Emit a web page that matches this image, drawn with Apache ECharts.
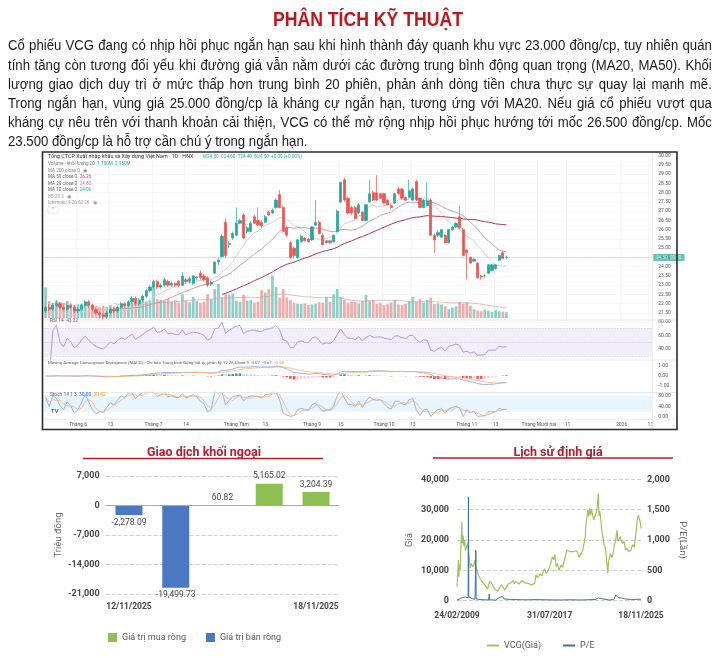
<!DOCTYPE html>
<html><head><meta charset="utf-8">
<script src="https://cdn.jsdelivr.net/npm/echarts@6/dist/echarts.min.js"></script>
<style>
html,body{margin:0;padding:0;background:#fff;}
#wrap{position:relative;width:720px;height:658px;overflow:hidden;background:#fff;}
#chart{position:absolute;left:0;top:0;width:720px;height:658px;}
#title{position:absolute;left:68px;top:7px;width:600px;text-align:center;font:bold 21px 'Liberation Sans',Arial,sans-serif;line-height:24px;color:#c0151c;transform:scaleX(0.84);transform-origin:50% 0;}
#para{position:absolute;left:8px;top:35.4px;width:828px;transform:scaleX(0.85);transform-origin:0 0;font:15.5px 'Liberation Sans',Arial,sans-serif;line-height:19.2px;color:#1a1a1a;}
.ln{text-align:justify;text-align-last:justify;text-justify:inter-word;white-space:nowrap;}
.ln.last{text-align:left;text-align-last:left;}
</style></head><body>
<div id="wrap">
<div id="chart"></div>
<div id="title">PHÂN TÍCH KỸ THUẬT</div>
<div id="para">
<div class="ln">Cổ phiếu VCG đang có nhịp hồi phục ngắn hạn sau khi hình thành đáy quanh khu vực 23.000 đồng/cp, tuy nhiên quán</div>
<div class="ln">tính tăng còn tương đối yếu khi đường giá vẫn nằm dưới các đường trung bình động quan trọng (MA20, MA50). Khối</div>
<div class="ln">lượng giao dịch duy trì ở mức thấp hơn trung bình 20 phiên, phản ánh dòng tiền chưa thực sự quay lại mạnh mẽ.</div>
<div class="ln">Trong ngắn hạn, vùng giá 25.000 đồng/cp là kháng cự ngắn hạn, tương ứng với MA20. Nếu giá cổ phiếu vượt qua</div>
<div class="ln">kháng cự nêu trên với thanh khoản cải thiện, VCG có thể mở rộng nhịp hồi phục hướng tới mốc 26.500 đồng/cp. Mốc</div>
<div class="ln last">23.500 đồng/cp là hỗ trợ cần chú ý trong ngắn hạn.</div>
</div>
</div>
<script>
// ---------------- DATA ----------------
// daily candles [open, close, low, high] ending 18/11/2025
const candleOHLC = [
[21.6,21.8,21.5,21.9],[21.8,21.7,21.6,22.0],[21.7,21.9,21.6,22.0],[21.9,22.0,21.8,22.2],[22.0,21.8,21.7,22.1],
[21.8,21.7,21.6,21.9],[21.7,21.9,21.6,22.0],[21.9,21.8,21.7,22.0],[21.8,21.6,21.5,21.9],[21.6,21.7,21.5,21.8],
[21.7,21.9,21.6,22.0],[21.9,22.1,21.8,22.2],[22.1,21.9,21.8,22.2],[21.9,21.7,21.6,22.0],[21.7,21.5,21.4,21.8],
[21.5,21.4,21.2,21.6],[21.4,21.3,21.1,21.5],[21.3,21.5,21.2,21.6],[21.5,21.7,21.4,21.8],[21.7,21.6,21.5,21.8],
[21.6,21.8,21.5,21.9],[21.8,22.0,21.7,22.1],[22.0,21.9,21.8,22.1],[21.9,22.1,21.8,22.2],[22.1,22.3,22.0,22.4],
[22.3,22.0,21.9,22.4],[22.0,22.2,21.9,22.3],[22.2,22.4,22.1,22.5],[22.4,22.7,22.3,22.8],[22.7,22.9,22.6,23.0],
[22.9,23.2,22.8,23.3],
[23.2,22.9,22.8,23.3],[22.9,23.0,22.8,23.1],[23.0,23.3,22.9,23.4],[23.2,23.0,22.9,23.3],[23.0,23.1,22.9,23.2],
[23.1,23.0,22.9,23.15],[23.2,23.0,22.9,23.3],[23.0,23.5,22.95,23.7],[23.3,23.2,23.1,23.4],[23.2,23.35,23.1,23.45],
[23.1,23.5,23.0,23.55],[23.4,23.45,23.3,23.5],
[23.65,23.4,23.3,23.8],[23.5,23.3,23.2,23.6],[23.4,23.0,22.9,23.5],[23.05,23.15,22.95,23.25],[23.65,24.25,23.6,24.3],
[24.25,24.35,24.1,24.5],[24.55,25.65,24.5,25.75],[26.4,24.6,24.5,26.6],[25.2,25.25,25.0,25.4],[25.55,25.8,25.45,25.9],
[25.7,26.35,25.65,27.2],[26.35,26.5,26.3,26.6],[26.8,25.55,25.5,26.9],[25.9,26.1,25.8,26.2],[25.9,26.35,25.85,26.45],
[26.7,26.35,26.3,26.8],[26.5,26.25,26.2,27.2],[26.4,26.2,26.1,26.5],[26.4,26.7,26.35,26.8],[26.95,26.8,26.75,27.05],
[26.9,27.05,26.85,27.15],[27.2,27.6,27.15,27.7],[27.9,27.2,27.15,28.15],[27.2,25.9,25.85,27.3],[26.1,25.7,25.6,26.2],
[25.3,24.5,24.4,25.4],[25.0,24.6,24.45,25.1],[24.5,25.45,24.4,25.5],[25.35,25.65,25.3,25.75],[25.55,25.4,25.35,25.6],
[25.5,25.35,25.3,25.55],[25.45,26.15,25.4,26.2],[26.25,26.4,26.2,27.6],[26.4,25.8,25.75,26.5],[25.7,25.2,25.15,25.8],
[25.3,25.4,25.25,25.45],[25.4,25.3,25.25,25.45],[25.35,25.7,25.3,25.75],[25.9,27.0,25.85,27.1],[27.5,28.55,27.45,28.6],
[28.7,27.6,27.5,28.8],[27.7,26.9,26.85,27.8],[27.2,26.9,26.8,27.3],[27.2,26.6,26.55,27.3],[26.9,27.35,26.85,27.45],
[26.95,26.5,26.45,27.0],[26.5,27.35,26.45,27.4],[27.5,27.95,27.45,28.7],[28.0,27.6,27.55,28.1],[28.0,27.6,27.55,28.95],
[27.95,27.7,27.65,28.0],[27.95,27.45,27.4,28.0],[27.6,27.35,27.3,27.65],[27.3,27.2,27.1,27.4],[27.45,27.95,27.4,28.0],
[28.2,27.95,27.9,28.3],[28.2,27.7,27.65,28.25],[27.75,27.6,27.55,27.8],[27.75,28.1,27.7,28.7],[27.6,28.2,27.55,28.3],
[28.6,27.6,27.55,28.7],[27.7,27.2,27.15,27.75],[27.2,27.6,27.15,27.65],[27.3,27.55,27.25,28.55],[27.6,25.7,25.65,27.7],
[25.7,25.45,24.75,25.8],[25.7,25.85,25.6,25.95],[25.6,26.0,25.55,26.05],[25.7,25.3,25.25,25.75],[25.3,26.0,25.25,26.05],
[26.0,26.15,25.95,26.2],[26.15,26.35,26.1,26.4],[26.7,26.1,26.05,27.3],[26.0,24.6,24.55,26.1],[24.9,24.75,23.3,24.95],
[24.5,24.2,24.15,24.55],[24.3,24.4,24.25,24.45],[24.2,23.4,23.35,24.25],[23.5,23.45,23.3,23.55],[23.5,23.5,23.4,23.6],
[23.65,24.1,23.6,24.15],[23.8,24.1,23.75,24.15],[23.9,24.1,23.85,24.15],[24.35,24.6,24.3,24.65],[24.75,24.45,24.4,24.85],
[24.5,24.5,24.4,24.6]
];
// daily volume (millions of shares)
const volumeM = [
9.0,5.0,4.5,5.0,4.7,4.5,5.0,4.2,3.8,4.0,
4.2,4.0,3.6,4.1,3.5,3.2,3.6,3.3,3.8,3.4,
3.2,3.5,3.9,4.4,4.6,4.2,4.5,6.5,4.8,5.2,
9.1,5.5,5.3,5.0,5.6,4.8,5.2,4.5,7.0,5.0,
4.6,6.2,5.0,4.5,4.8,7.0,5.5,8.5,10.0,6.0,
7.0,6.8,7.2,5.0,4.8,6.8,5.0,5.3,4.5,4.8,
8.2,7.5,8.5,12.5,9.1,6.0,8.5,6.0,5.3,4.5,
4.2,4.1,4.3,3.8,4.0,4.2,4.7,4.5,6.2,4.8,
7.0,8.5,6.2,5.3,4.5,4.8,4.7,4.3,5.0,6.8,
5.0,5.3,4.2,4.4,3.8,4.0,4.6,5.3,4.0,3.8,
4.2,5.0,6.2,4.8,5.6,4.5,5.3,6.0,4.1,4.3,
4.0,3.5,2.6,3.0,3.4,4.7,4.2,4.7,3.6,2.6,
2.2,2.0,2.4,2.1,1.8,2.3,2.0,1.9,1.7
];
const lastSessionDate = '2025-11-18';
const marketHolidays = ['2025-09-01','2025-09-02'];
const totalSlots = 169;
const timeTickDates = ['2025-06-02','2025-06-13','2025-07-01','2025-07-14','2025-08-01','2025-08-13','2025-09-03','2025-09-15','2025-10-01','2025-10-13','2025-11-03','2025-11-13','2025-12-01','2025-12-11','2026-01-01','2026-01-13'];
const timeTickLabels = ['Tháng 6','13','Tháng 7','14','Tháng Tám','13','Tháng 9','15','Tháng 10','13','Tháng 11','13','Tháng Mười hai','11','2026','13'];

// foreign trading
const foreignDates = ['12/11/2025','13/11/2025','14/11/2025','17/11/2025','18/11/2025'];
const foreignNet = [-2278.09,-19499.73,60.82,5165.02,3204.39];

// valuation history
const valuationTickDates = ['2009-02-24','2017-07-31','2025-11-18'];
const priceHistory = [
['2009-02-24',4600],['2009-03-20',8500],['2009-04-10',13400],['2009-04-25',7900],['2009-05-15',12000],['2009-06-10',10000],
['2009-07-01',17000],['2009-08-05',26000],['2009-08-20',18900],['2009-09-15',21500],['2009-10-10',18000],['2009-11-05',20000],
['2009-12-01',16500],['2010-01-10',17800],['2010-02-15',18900],['2010-03-20',15600],['2010-04-20',13200],['2010-05-10',10800],
['2010-06-01',12300],['2010-07-05',12900],['2010-08-01',11200],['2010-09-10',12000],['2010-10-10',13400],['2010-11-15',11000],
['2010-12-20',10100],['2011-02-10',8200],['2011-03-15',7900],['2011-05-01',6800],['2011-06-15',6300],['2011-08-01',5600],
['2011-09-15',5000],['2011-10-20',4600],['2011-12-10',3900],['2012-01-20',5700],['2012-03-01',6500],['2012-04-10',6300],
['2012-05-20',5200],['2012-07-15',4100],['2012-09-01',3700],['2012-11-10',3000],['2013-01-05',4200],['2013-03-10',5200],
['2013-05-10',4400],['2013-06-20',3500],['2013-08-15',4300],['2013-10-20',5500],['2013-12-15',5100],['2014-02-01',5900],
['2014-04-01',6700],['2014-05-15',5600],['2014-07-01',6300],['2014-09-01',6800],['2014-10-15',5500],['2014-12-15',6000],
['2015-01-20',6600],['2015-03-10',6200],['2015-05-01',5900],['2015-07-01',6400],['2015-08-20',5700],['2015-10-10',5400],
['2015-12-01',5200],['2016-02-01',5000],['2016-03-20',5700],['2016-05-01',8500],['2016-06-20',7600],['2016-08-10',7900],
['2016-10-01',8800],['2016-11-20',8100],['2017-01-01',9600],['2017-02-20',10500],['2017-04-10',9000],['2017-06-01',9800],
['2017-08-01',11200],['2017-09-15',12800],['2017-11-01',14500],['2017-12-10',13500],['2018-01-20',15200],['2018-03-01',11200],
['2018-04-15',12200],['2018-06-01',10100],['2018-07-10',9500],['2018-08-20',11800],['2018-10-01',11000],['2018-11-20',13000],
['2019-01-01',14500],['2019-02-25',16700],['2019-04-10',17300],['2019-06-01',16200],['2019-08-01',16800],['2019-10-01',16200],
['2019-11-20',15800],['2020-01-10',16500],['2020-02-20',15600],['2020-04-01',14200],['2020-05-15',15100],['2020-06-25',15000],
['2020-08-05',16700],['2020-09-15',19000],['2020-10-20',21100],['2020-11-25',26000],['2020-12-20',27500],['2021-01-15',29900],
['2021-02-15',27800],['2021-03-20',30400],['2021-04-15',28200],['2021-05-20',30000],['2021-07-01',29900],['2021-08-01',26600],
['2021-09-01',27500],['2021-10-15',28800],['2021-11-20',30500],['2022-01-01',35400],['2022-01-25',28000],['2022-02-20',29500],
['2022-03-25',26600],['2022-05-01',22500],['2022-06-01',21100],['2022-07-10',18400],['2022-08-15',17500],['2022-09-25',14500],
['2022-11-10',9000],['2022-12-05',12900],['2023-01-10',13500],['2023-02-10',15600],['2023-03-25',14200],['2023-05-01',15100],
['2023-06-15',18400],['2023-08-01',19800],['2023-09-10',23300],['2023-10-15',19500],['2023-11-20',18900],['2024-01-01',21100],
['2024-02-01',19800],['2024-03-15',18900],['2024-05-01',19700],['2024-06-20',16700],['2024-08-05',17400],['2024-09-20',16200],
['2024-11-01',15600],['2024-12-15',16500],['2025-01-20',17800],['2025-03-01',18500],['2025-04-10',17500],['2025-05-20',21100],
['2025-06-25',21500],['2025-07-20',26600],['2025-08-25',28200],['2025-09-20',27200],['2025-10-25',25800],['2025-11-18',23800]
];
const peHistory = [
['2009-02-24',10],['2009-06-01',30],['2009-09-01',55],['2009-12-15',60],['2010-02-01',40],['2010-03-01',45],['2010-03-10',1710],
['2010-03-22',60],['2010-05-01',50],['2010-08-01',30],['2010-10-15',25],['2010-11-05',35],['2010-11-12',830],['2010-11-22',30],
['2011-03-01',20],['2011-09-01',15],['2012-01-10',12],['2012-02-01',110],['2012-02-15',15],['2012-09-01',10],['2013-01-15',55],
['2013-03-01',60],['2013-04-15',70],['2013-06-01',30],['2014-01-01',20],['2015-06-01',15],['2016-06-01',18],['2017-06-01',14],
['2018-06-01',12],['2019-06-01',15],['2020-06-01',12],['2021-10-01',20],['2021-11-15',40],['2022-01-01',45],['2022-03-01',15],
['2023-01-01',10],['2023-06-01',20],['2023-08-01',95],['2023-09-15',90],['2023-10-15',55],['2023-12-01',60],['2024-02-01',45],
['2024-06-01',30],['2025-01-01',20],['2025-11-18',25]
];

// ---------------- HELPERS ----------------
const iso = d => d.toISOString().slice(0,10);
function buildDays(){
  const past=[]; let d=new Date(lastSessionDate+'T00:00:00Z');
  while(past.length<candleOHLC.length){const wd=d.getUTCDay();const s=iso(d);
    if(wd!==0&&wd!==6&&!marketHolidays.includes(s)) past.unshift(s); d.setUTCDate(d.getUTCDate()-1);}
  const all=past.slice(); d=new Date(lastSessionDate+'T00:00:00Z');
  while(all.length<totalSlots){d.setUTCDate(d.getUTCDate()+1);const wd=d.getUTCDay(); if(wd!==0&&wd!==6) all.push(iso(d));}
  return all;
}
const cats = buildDays();
const tickMap = {}; timeTickDates.forEach((d,i)=>tickMap[d]=timeTickLabels[i]);
const isTick = (i,v)=> tickMap[v]!==undefined;

const closes = candleOHLC.map(c=>c[1]);
function sma(arr,n){return arr.map((v,i)=>{if(i<n-1) return null; let s=0; for(let k=i-n+1;k<=i;k++) s+=arr[k]; return +(s/n).toFixed(4);});}
function ema(arr,n){const k=2/(n+1);const out=[];arr.forEach((v,i)=>out.push(i===0?v:v*k+out[i-1]*(1-k)));return out;}
const ma10=sma(closes,10), ma20=sma(closes,20), ma50=sma(closes,50), volMa=sma(volumeM,20);
const e12=ema(closes,12), e26=ema(closes,26);
const macd=e12.map((v,i)=>v-e26[i]); const sig=ema(macd,9); const hist=macd.map((v,i)=>v-sig[i]);
const rsi=[null]; {let ag=0,al=0; for(let i=1;i<closes.length;i++){const ch=closes[i]-closes[i-1];const g=Math.max(ch,0),l=Math.max(-ch,0);
  if(i<=14){ag=(ag*(i-1)+g)/i; al=(al*(i-1)+l)/i;} else {ag=(ag*13+g)/14; al=(al*13+l)/14;}
  rsi.push(al===0?100:+(100-100/(1+ag/al)).toFixed(2));}}
const stK=candleOHLC.map((c,i)=>{let hh=-1e9,ll=1e9;for(let k=Math.max(0,i-13);k<=i;k++){hh=Math.max(hh,candleOHLC[k][3]);ll=Math.min(ll,candleOHLC[k][2]);}return +(100*(c[1]-ll)/(hh-ll)).toFixed(2);});
const stD=stK.map((v,i)=>{const a=stK.slice(Math.max(0,i-2),i+1);return +(a.reduce((x,y)=>x+y,0)/a.length).toFixed(2);});
const up='#26a69a', dn='#ef5350';
const dirUp=candleOHLC.map((c,i)=>c[1]>c[0]||(c[1]===c[0]&&i>0&&c[1]>=closes[i-1]));
const volData=volumeM.map((v,i)=>({value:v,itemStyle:{color:dirUp[i]?'#8dcfc6':'#f5aaa9'}}));
const histData=hist.map((v,i)=>{const p=i>0?hist[i-1]:0;const c=v>=0?(v>=p?'#26a69a':'#b2dfdb'):(v<p?'#ff5252':'#ffcdd2');return {value:+v.toFixed(4),itemStyle:{color:c}};});
const last=closes[closes.length-1];
const ts = s=>Date.parse(s+'T00:00:00Z');
const fmtDate = t=>{const d=new Date(t);return String(d.getUTCDate()).padStart(2,'0')+'/'+String(d.getUTCMonth()+1).padStart(2,'0')+'/'+d.getUTCFullYear();};
const f2 = v=>v==null?'':v.toFixed(2);
const buyVals=foreignNet.map(v=>v>=0?v:null), sellVals=foreignNet.map(v=>v<0?v:null);

// ---------------- GRAPHICS (TradingView labels, frame) ----------------
const TF='Roboto, Arial, sans-serif';
const G=[];
function txt(x,y,rich,text,size,color){G.push({type:'text',x:x,y:y,z:60,silent:true,style:{text:text,rich:rich||undefined,fill:color||'#555',fontSize:size||5,fontFamily:TF,textVerticalAlign:'middle',verticalAlign:'middle'}});}
function hl(x1,y1,x2,y2,c,w){G.push({type:'line',z:55,silent:true,shape:{x1,y1,x2,y2},style:{stroke:c,lineWidth:w||1}});}
txt(48,156.5,null,'Tổng CTCP Xuất nhập khẩu và Xây dựng Việt Nam · 1D · HNX',5.4,'#333');
txt(203,156.5,{g:{fill:'#26a69a',fontSize:4.6,fontFamily:TF}},'{g|M24.50  C24.60  T24.40  Đ24.50  +0.00 (+0.00%)}',4.6,'#26a69a');
txt(48,164,{a:{fill:'#777',fontSize:4.6,fontFamily:TF},g:{fill:'#26a69a',fontSize:4.6,fontFamily:TF}},'{a|Volume · khối lượng 20}  {g|'+(volumeM[volumeM.length-1]).toFixed(3)+'M  '+volMa[volMa.length-1].toFixed(3)+'M}');
txt(48,170.5,null,'MA 200 close 0   ◉',4.6,'#888');
txt(48,177,{a:{fill:'#666',fontSize:4.6,fontFamily:TF},r:{fill:'#c2416a',fontSize:4.6,fontFamily:TF}},'{a|MA 50 close 0}  {r|'+f2(ma50[ma50.length-1])+'}');
txt(48,183.5,{a:{fill:'#666',fontSize:4.6,fontFamily:TF},r:{fill:'#c07a95',fontSize:4.6,fontFamily:TF}},'{a|MA 20 close 0}  {r|'+f2(ma20[ma20.length-1])+'}');
txt(48,190,{a:{fill:'#666',fontSize:4.6,fontFamily:TF},r:{fill:'#2aa07a',fontSize:4.6,fontFamily:TF}},'{a|MA 10 close 0}  {r|'+f2(ma10[ma10.length-1])+'}');
txt(48,196.5,null,'BB 20 2   ◉',4.6,'#999');
txt(48,203,null,'Ichimoku 9 26 52 26   ◉',4.6,'#999');
G.push({type:'rect',z:60,silent:true,shape:{x:48,y:207,width:10,height:6,r:1},style:{fill:'#fff',stroke:'#ccc',lineWidth:0.5}});
txt(51,210.2,null,'⌃',4.5,'#777');
txt(50,320.5,{a:{fill:'#555',fontSize:4.8,fontFamily:TF},r:{fill:'#7e57c2',fontSize:4.8,fontFamily:TF}},'{a|RSI 14}  {r|'+f2(rsi[rsi.length-1])+'}');
txt(48,363,{a:{fill:'#555',fontSize:4.3,fontFamily:TF},b:{fill:'#2962ff',fontSize:4.3,fontFamily:TF},o:{fill:'#ff9800',fontSize:4.3,fontFamily:TF}},'{a|Moving Average Convergence Divergence (MACD) - Chỉ báo Trung bình Động hội tụ, phân kỳ 12 26 Close 9}  {b|'+f2(hist[hist.length-1])+'}  {b|'+f2(macd[macd.length-1])+'}  {o|'+f2(sig[sig.length-1])+'}');
txt(50,394.5,{a:{fill:'#555',fontSize:4.8,fontFamily:TF},b:{fill:'#2962ff',fontSize:4.8,fontFamily:TF},o:{fill:'#ff9800',fontSize:4.8,fontFamily:TF}},'{a|Stoch 14 1 3}  {b|'+f2(stK[stK.length-1])+'}  {o|'+f2(stD[stD.length-1])+'}');
txt(51,411.5,null,'TV',6,'#131722');
hl(43,320,677,320,'#e3e3e3',0.8); hl(43,360,677,360,'#e3e3e3',0.8); hl(43,392.5,677,392.5,'#e3e3e3',0.8); hl(43,419.5,677,419.5,'#e8e8e8',0.8);
hl(652.5,153,652.5,429,'#ececec',0.8);
G.push({type:'rect',z:70,silent:true,shape:{x:42.5,y:152,width:634.5,height:277.5},style:{fill:'none',stroke:'#2b2b2b',lineWidth:1.6}});
hl(83,458.5,323,458.5,'#b3202a',1.6); hl(433,458,673,458,'#b3202a',1.6);

// ---------------- OPTION ----------------
const gL=43.8, gR=720-(43.8+169*3.6);
function catAxis(gi,showLab){return {type:'category',gridIndex:gi,data:cats,boundaryGap:true,axisLine:{show:false},axisTick:{show:false},
  axisLabel:{show:showLab,interval:isTick,formatter:v=>tickMap[v]||'',fontSize:5,color:'#555',margin:3,fontFamily:TF},
  splitLine:{show:gi===0,interval:isTick,lineStyle:{color:'#f0f0f0',width:0.7}}};}
function subY(gi,mn,mx,vals){return {type:'value',gridIndex:gi,position:'right',min:mn,max:mx,axisLine:{show:false},axisTick:{show:false},splitLine:{show:false},
  axisLabel:{customValues:vals,formatter:v=>v.toFixed(2),fontSize:5,color:'#555',margin:6,fontFamily:TF}};}
const BF='Roboto, Arial, sans-serif';
const option={
  animation:false,
  backgroundColor:'transparent',
  graphic:G,
  title:[
    {text:'Giao dịch khối ngoại',left:199,top:441,textAlign:'center',textStyle:{fontSize:12.5,fontWeight:'bold',color:'#b3202a',fontFamily:BF}},
    {text:'Lịch sử định giá',left:553,top:441,textAlign:'center',textStyle:{fontSize:12.5,fontWeight:'bold',color:'#b3202a',fontFamily:BF}}
  ],
  legend:[
    {data:['Giá trị mua ròng','Giá trị bán ròng'],left:103,top:628,itemWidth:9,itemHeight:9,itemGap:20,icon:'rect',textStyle:{fontSize:9,color:'#555',fontFamily:BF}},
    {data:['VCG(Giá)','P/E'],left:482,top:636,itemWidth:12,itemHeight:2,itemGap:22,icon:'rect',textStyle:{fontSize:9,color:'#555',fontFamily:BF}}
  ],
  grid:[
    {left:gL,right:gR,top:155.7,height:166.5},
    {left:gL,right:gR,top:250,height:68},
    {left:gL,right:gR,top:318.3,height:40.9},
    {left:gL,right:gR,top:362,height:30},
    {left:gL,right:gR,top:392.06,height:27.04},
    {left:105.6,width:233.8,top:476,height:118},
    {left:457,right:79,top:479.3,height:121.4}
  ],
  xAxis:[
    catAxis(0,false),catAxis(1,false),catAxis(2,false),catAxis(3,false),catAxis(4,true),
    {type:'category',gridIndex:5,data:foreignDates,axisLine:{show:false},axisTick:{show:false},
     axisLabel:{interval:(i)=>i===0||i===foreignDates.length-1,fontSize:8.5,fontWeight:'bold',color:'#444',margin:8,fontFamily:BF}},
    {type:'value',gridIndex:6,min:ts(valuationTickDates[0]),max:ts(valuationTickDates[2]),axisLine:{show:false},axisTick:{show:false},splitLine:{show:false},
     axisLabel:{customValues:valuationTickDates.map(ts),formatter:v=>fmtDate(v),fontSize:8.5,fontWeight:'bold',color:'#444',margin:11,fontFamily:BF}}
  ],
  yAxis:[
    {type:'value',gridIndex:0,position:'right',min:21,max:30,interval:0.5,axisLine:{show:false},axisTick:{show:false},
     axisLabel:{formatter:v=>v.toFixed(2),fontSize:5,color:'#555',margin:6,showMinLabel:false,fontFamily:TF},splitLine:{lineStyle:{color:'#f3f3f3',width:0.7}}},
    {type:'value',gridIndex:1,min:0,max:20,show:false,splitLine:{show:false}},
    subY(2,25,85,[40,60,80]),
    subY(3,-1.6,1.4,[-1,0,1]),
    subY(4,-8,95,[0,40,80]),
    {type:'value',gridIndex:5,min:-21000,max:7000,interval:7000,name:'Triệu đồng',nameLocation:'middle',nameGap:42,nameRotate:90,
     nameTextStyle:{fontSize:9.5,color:'#666',fontFamily:BF},axisLine:{show:false},axisTick:{show:false},
     axisLabel:{fontSize:9,fontWeight:'bold',color:'#444',margin:6,fontFamily:BF},splitLine:{lineStyle:{type:'dashed',color:'#cfcfcf'}}},
    {type:'value',gridIndex:6,min:0,max:40000,interval:10000,name:'Giá',nameLocation:'middle',nameGap:42,nameRotate:90,
     nameTextStyle:{fontSize:9.5,color:'#666',fontFamily:BF},axisLine:{show:false},axisTick:{show:false},
     axisLabel:{fontSize:9,fontWeight:'bold',color:'#444',margin:8,fontFamily:BF},splitLine:{lineStyle:{type:'dashed',color:'#cfcfcf'}}},
    {type:'value',gridIndex:6,position:'right',min:0,max:2000,interval:500,name:'P/E(Lần)',nameLocation:'middle',nameGap:36,nameRotate:-90,
     nameTextStyle:{fontSize:9.5,color:'#666',fontFamily:BF},axisLine:{show:false},axisTick:{show:false},
     axisLabel:{fontSize:9,fontWeight:'bold',color:'#444',margin:6,fontFamily:BF},splitLine:{show:false}}
  ],
  series:[
    {type:'bar',name:'vol',xAxisIndex:1,yAxisIndex:1,data:volData,barWidth:2.7,silent:true,z:1},
    {type:'line',name:'volma',xAxisIndex:1,yAxisIndex:1,data:volMa,showSymbol:false,silent:true,lineStyle:{color:'#d8a0a0',width:0.7},z:2},
    {type:'candlestick',name:'VCG',xAxisIndex:0,yAxisIndex:0,data:candleOHLC,barWidth:2.6,z:5,
     itemStyle:{color:up,color0:dn,borderColor:up,borderColor0:dn,borderWidth:0.7},
     markLine:{symbol:'none',silent:true,data:[{yAxis:last}],lineStyle:{color:up,type:'dotted',width:0.6,opacity:0.7},
       label:{position:'end',formatter:()=>last.toFixed(2)+'  00:00',backgroundColor:up,color:'#fff',fontSize:4.6,padding:[1,3],distance:1,fontFamily:TF}}},
    {type:'line',name:'ma10',xAxisIndex:0,yAxisIndex:0,data:ma10,showSymbol:false,silent:true,lineStyle:{color:'#c3cdc8',width:0.9},z:4},
    {type:'line',name:'ma20',xAxisIndex:0,yAxisIndex:0,data:ma20,showSymbol:false,silent:true,lineStyle:{color:'#b99aab',width:0.9},z:4},
    {type:'line',name:'ma50',xAxisIndex:0,yAxisIndex:0,data:ma50,showSymbol:false,silent:true,lineStyle:{color:'#a8375a',width:1},z:4},
    {type:'line',name:'rsi',xAxisIndex:2,yAxisIndex:2,data:rsi,showSymbol:false,silent:true,lineStyle:{color:'#a293cc',width:0.9},
     markArea:{silent:true,itemStyle:{color:'rgba(126,87,194,0.10)'},data:[[{yAxis:30},{yAxis:70}]]},
     markLine:{symbol:'none',silent:true,label:{show:false},lineStyle:{color:'#c2b8de',type:'dashed',width:0.5},data:[{yAxis:70},{yAxis:50},{yAxis:30}]}},
    {type:'bar',name:'hist',xAxisIndex:3,yAxisIndex:3,data:histData,barWidth:2.6,silent:true},
    {type:'line',name:'macd',xAxisIndex:3,yAxisIndex:3,data:macd.map(v=>+v.toFixed(4)),showSymbol:false,silent:true,lineStyle:{color:'#8a9ed6',width:0.8}},
    {type:'line',name:'signal',xAxisIndex:3,yAxisIndex:3,data:sig.map(v=>+v.toFixed(4)),showSymbol:false,silent:true,lineStyle:{color:'#f2b27a',width:0.8}},
    {type:'line',name:'k',xAxisIndex:4,yAxisIndex:4,data:stK,showSymbol:false,silent:true,lineStyle:{color:'#8a9ed6',width:0.8},
     markArea:{silent:true,itemStyle:{color:'rgba(33,150,243,0.10)'},data:[[{yAxis:20},{yAxis:80}]]}},
    {type:'line',name:'d',xAxisIndex:4,yAxisIndex:4,data:stD,showSymbol:false,silent:true,lineStyle:{color:'#f2b27a',width:0.8}},
    {type:'bar',name:'Giá trị mua ròng',xAxisIndex:5,yAxisIndex:5,stack:'net',data:buyVals,barWidth:27,itemStyle:{color:'#8cc152'},
     label:{show:true,position:'top',formatter:p=>echarts.format.addCommas(p.value.toFixed(2)),fontSize:8.5,color:'#444',fontFamily:BF,distance:3},
     markLine:{symbol:'none',silent:true,label:{show:false},lineStyle:{color:'#a8a8a8',type:'solid',width:1},data:[{yAxis:0}]}},
    {type:'bar',name:'Giá trị bán ròng',xAxisIndex:5,yAxisIndex:5,stack:'net',data:sellVals,barWidth:27,itemStyle:{color:'#4a78c2'},
     label:{show:true,position:'bottom',formatter:p=>echarts.format.addCommas(p.value.toFixed(2)),fontSize:8.5,color:'#444',fontFamily:BF,distance:3}},
    {type:'line',name:'VCG(Giá)',xAxisIndex:6,yAxisIndex:6,data:priceHistory.map(p=>[ts(p[0]),p[1]]),showSymbol:false,itemStyle:{color:'#9ec25e'},lineStyle:{color:'#9ec25e',width:1.2}},
    {type:'line',name:'P/E',xAxisIndex:6,yAxisIndex:7,data:peHistory.map(p=>[ts(p[0]),p[1]]),showSymbol:false,itemStyle:{color:'#3f6fa8'},lineStyle:{color:'#3f6fa8',width:1}}
  ]
};
const chart=echarts.init(document.getElementById('chart'),null,{renderer:'canvas',width:720,height:658});
chart.setOption(option);
</script>
</body></html>
